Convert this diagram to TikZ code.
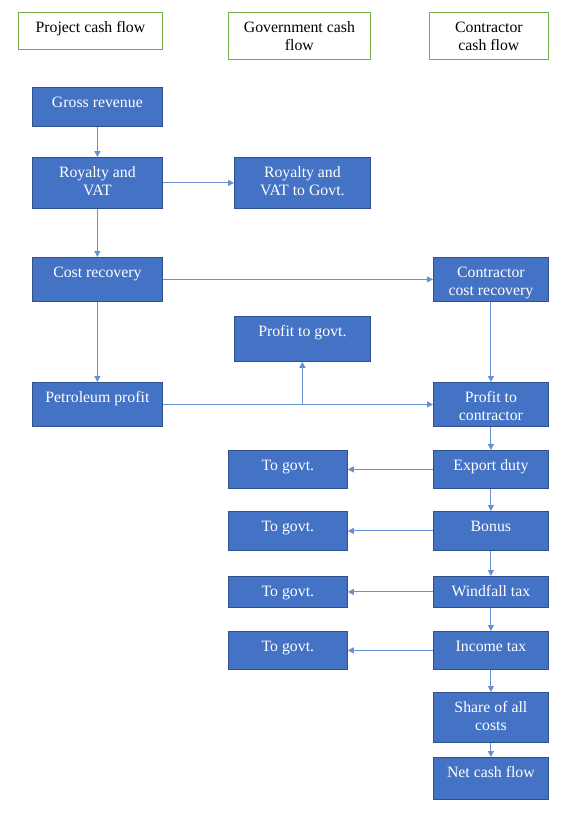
\documentclass[tikz,border=0pt]{standalone}
\usepackage{fontspec}
\setmainfont{Liberation Serif}
\usepackage{xcolor}
\usepackage{tikz}
\usetikzlibrary{arrows.meta}
\definecolor{boxblue}{HTML}{4472C4}
\definecolor{boxedge}{HTML}{2F528F}
\definecolor{headedge}{HTML}{70AD47}
\definecolor{linkblue}{HTML}{6690D2}
\tikzset{
    dims/.style 2 args={%
        execute at begin node={\begin{minipage}[c][#2][t]{#1}\centering\rule{0pt}{20.5pt}},%
        execute at end node={\end{minipage}}
    },
    block/.style={draw=boxedge, fill=boxblue, text=white, inner sep=0pt, anchor=north west, line width=0.8pt},
    header/.style={draw=headedge, fill=white, inner sep=0pt, anchor=north west, line width=0.8pt},
    link/.style={draw=linkblue, line width=1.1pt, -{Triangle[length=6pt,width=6pt]}},
}
\begin{document}
\begin{tikzpicture}[x=1pt,y=-1pt,font=\fontsize{15.8}{17.8}\selectfont]
    \useasboundingbox (0,0) rectangle (576,838);
    % column heads
    \node (hproj) [header,dims={144pt}{37pt}] at (18,12) {Project cash flow};
    \node (hgov) [header,dims={142pt}{47pt}] at (228,12) {Government cash\\flow};
    \node (hcon) [header,dims={119pt}{47pt}] at (429,12) {Contractor\\cash flow};
    % project
    \node (gross) [block,dims={130pt}{39pt}] at (32,87) {Gross revenue};
    \node (roy) [block,dims={130pt}{51pt}] at (32,157) {Royalty and\\VAT};
    \node (cost) [block,dims={130pt}{44pt}] at (32,257) {Cost recovery};
    \node (pet) [block,dims={130pt}{44pt}] at (32,382) {Petroleum profit};
    % government
    \node (roygov) [block,dims={136pt}{51pt}] at (234,157) {Royalty and\\VAT to Govt.};
    \node (progov) [block,dims={136pt}{45pt}] at (234,316) {Profit to govt.};
    \node (togov1) [block,dims={119pt}{38pt}] at (228,450) {To govt.};
    \node (togov2) [block,dims={119pt}{39pt}] at (228,511) {To govt.};
    \node (togov3) [block,dims={119pt}{31pt}] at (228,576) {To govt.};
    \node (togov4) [block,dims={119pt}{38pt}] at (228,631) {To govt.};
    % contractor
    \node (ccr) [block,dims={115pt}{44pt}] at (433,257) {Contractor\\cost recovery};
    \node (ptc) [block,dims={115pt}{44pt}] at (433,382) {Profit to\\contractor};
    \node (exp) [block,dims={115pt}{38pt}] at (433,450) {Export duty};
    \node (bonus) [block,dims={115pt}{39pt}] at (433,511) {Bonus};
    \node (wind) [block,dims={115pt}{31pt}] at (433,576) {Windfall tax};
    \node (inc) [block,dims={115pt}{38pt}] at (433,631) {Income tax};
    \node (share) [block,dims={115pt}{50pt}] at (433,692) {Share of all\\costs};
    \node (net) [block,dims={115pt}{42pt}] at (433,757) {Net cash flow};
    % flows
    \draw[link] (gross) -- (roy);
    \draw[link] (roy) -- (roygov);
    \draw[link] (roy) -- (cost);
    \draw[link] (cost) -- (ccr);
    \draw[link] (cost) -- (pet);
    \draw[link] (ccr) -- (ptc);
    \draw[link] (pet) -- (ptc);
    \draw[link] (progov.south |- pet.east) -- (progov);
    \draw[link] (ptc) -- (exp);
    \draw[link] (exp) -- (bonus);
    \draw[link] (bonus) -- (wind);
    \draw[link] (wind) -- (inc);
    \draw[link] (inc) -- (share);
    \draw[link] (share) -- (net);
    \draw[link] (exp) -- (togov1);
    \draw[link] (bonus) -- (togov2);
    \draw[link] (wind) -- (togov3);
    \draw[link] (inc) -- (togov4);
\end{tikzpicture}
\end{document}
